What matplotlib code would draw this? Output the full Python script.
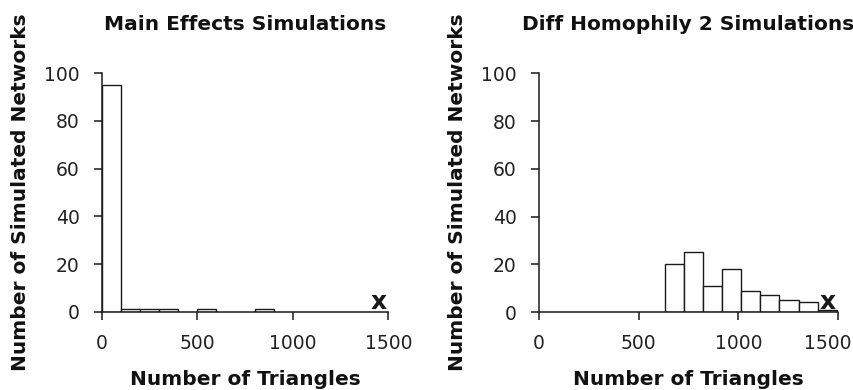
import matplotlib
matplotlib.use('Agg')
import matplotlib.pyplot as plt
import matplotlib.transforms as mtransforms
import numpy as np

# ── data ─────────────────────────────────────────────────────────────────────
titles = ['Main Effects Simulations', 'Diff Homophily 2 Simulations']

# left: bins of width 100 (only non-empty bins listed)
main_bin_left  = [0, 100, 200, 300, 500, 800]
main_bin_width = 100
main_counts    = [95, 1, 1, 1, 1, 1]

# right: bins of width 96 starting at 630
diff_bin_left  = [630, 726, 822, 918, 1014, 1110, 1206, 1302, 1398]
diff_bin_width = 96
diff_counts    = [20, 25, 11, 18, 9, 7, 5, 4, 1]

observed_x = [1450, 1450]   # observed network value, marked with "x"

xticks = [0, 500, 1000, 1500]
yticks = [0, 20, 40, 60, 80, 100]

# ── figure ───────────────────────────────────────────────────────────────────
fig = plt.figure(figsize=(8.54, 3.9), dpi=100)
W, H = 854, 390
ax1 = fig.add_axes([101.7 / W, 1 - 311.7 / H, (388.3 - 101.7) / W, (311.7 - 73.3) / H])
ax2 = fig.add_axes([539.0 / W, 1 - 312.0 / H, (838.0 - 539.0) / W, (312.0 - 73.3) / H])

panels = [
    (ax1, main_bin_left, main_bin_width, main_counts),
    (ax2, diff_bin_left, diff_bin_width, diff_counts),
]

for i, (ax, left, width, counts) in enumerate(panels):
    ax.bar(left, counts, width=width, align='edge', facecolor='white',
           edgecolor='#1a1a1a', lw=1.0, zorder=2)
    ax.text(observed_x[i], 1.3, 'x', fontsize=18, fontweight='bold',
            ha='center', va='baseline', color='#1a1a1a')
    ax.set_xlim(0, 1500)
    ax.set_ylim(0, 100)
    ax.set_xticks(xticks)
    ax.set_yticks(yticks)
    ax.spines['top'].set_visible(False)
    ax.spines['right'].set_visible(False)
    for s in ('left', 'bottom'):
        ax.spines[s].set_linewidth(1.1)
        ax.spines[s].set_color('#1a1a1a')
    ax.tick_params(direction='out', length=6, width=1.1, color='#1a1a1a',
                   pad=10, labelsize=13.5, labelcolor='#222222')
    ax.set_xlabel('Number of Triangles', fontsize=14.5, fontweight='bold',
                  labelpad=12, color='#111111')
    ax.set_ylabel('Number of Simulated Networks', fontsize=14.5, fontweight='bold',
                  labelpad=10, color='#111111')
    ax.set_title(titles[i], fontsize=14.5, fontweight='bold', pad=31,
                 color='#111111')

# last tick label on the right panel is nudged left to stay inside the figure
last = ax2.get_xticklabels()[-1]
last.set_transform(last.get_transform() +
                   mtransforms.ScaledTranslation(-0.10, 0, fig.dpi_scale_trans))

plt.savefig('out.png', dpi=100)
plt.close()
